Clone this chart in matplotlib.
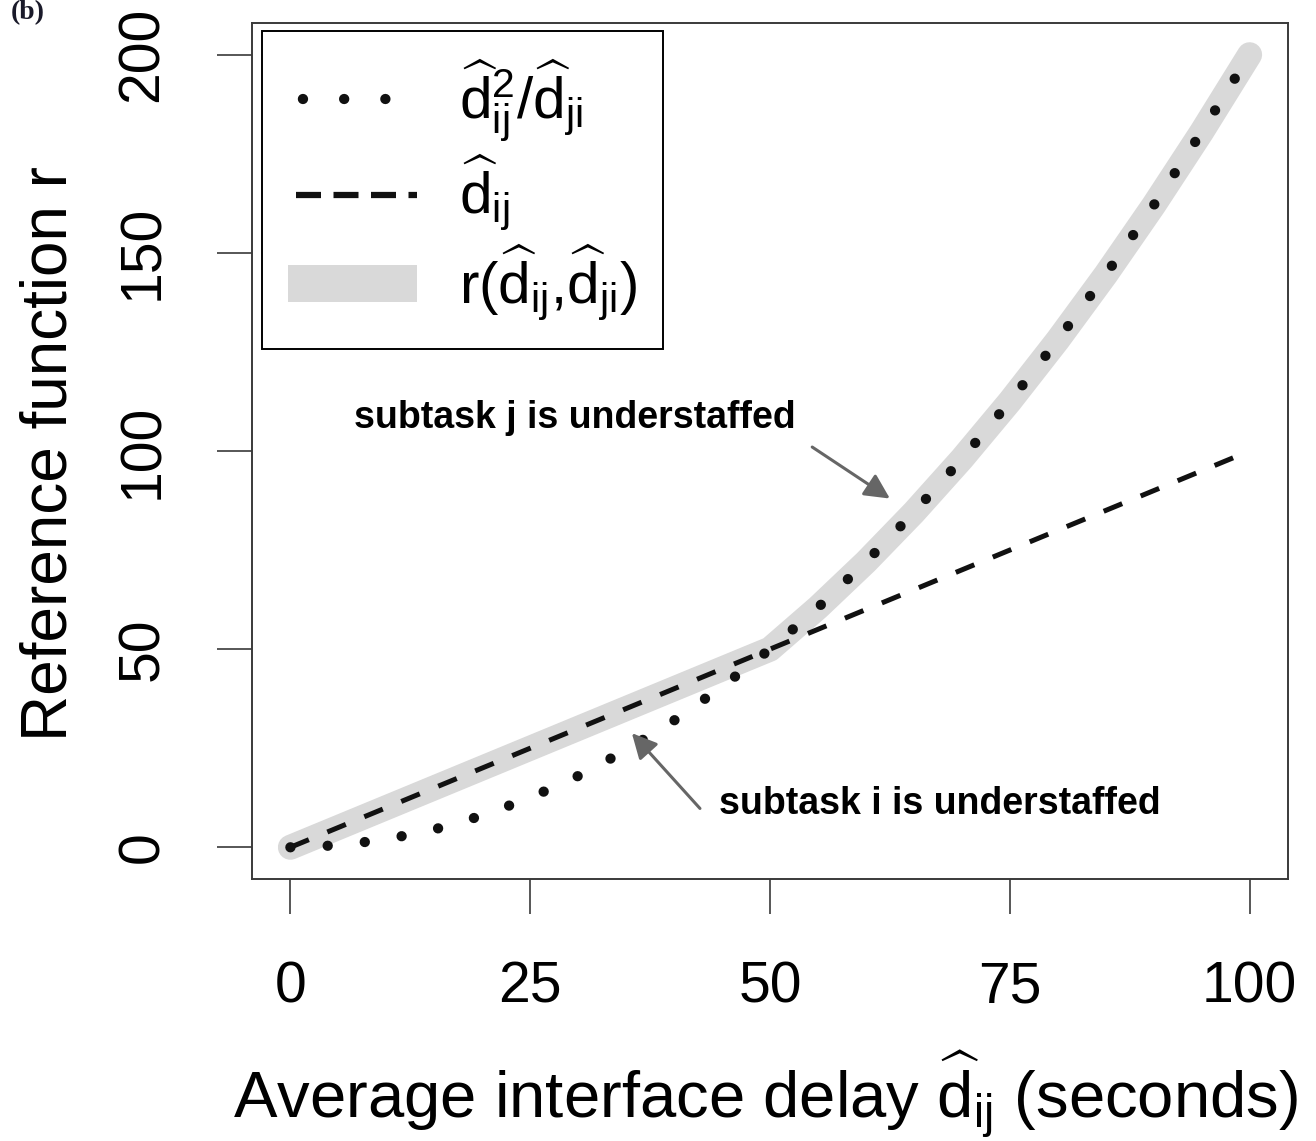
import matplotlib
matplotlib.use("Agg")
import matplotlib.pyplot as plt
from matplotlib.lines import Line2D
from matplotlib.patches import Patch

# Delay values and the reference function pieces
d_ij = [0, 5, 10, 15, 20, 25, 30, 35, 40, 45, 50,
        55, 60, 65, 70, 75, 80, 85, 90, 95, 100]
ratio = [0, 0.5, 2, 4.5, 8, 12.5, 18, 24.5, 32, 40.5, 50,
         60.5, 72, 84.5, 98, 112.5, 128, 144.5, 162, 180.5, 200]
linear = [0, 5, 10, 15, 20, 25, 30, 35, 40, 45, 50,
          55, 60, 65, 70, 75, 80, 85, 90, 95, 100]
r_ref = [0, 5, 10, 15, 20, 25, 30, 35, 40, 45, 50,
         60.5, 72, 84.5, 98, 112.5, 128, 144.5, 162, 180.5, 200]

x_ticks = [0, 25, 50, 75, 100]
y_ticks = [0, 50, 100, 150, 200]

plt.rcParams['font.family'] = ['Liberation Sans', 'DejaVu Sans']
plt.rcParams['mathtext.fontset'] = 'custom'
plt.rcParams['mathtext.rm'] = 'Liberation Sans'
plt.rcParams['mathtext.it'] = 'Liberation Sans:italic'
plt.rcParams['mathtext.bf'] = 'Liberation Sans:bold'

W, H = 1316, 1141
fig = plt.figure(figsize=(W / 100, H / 100), dpi=100)
ax = fig.add_axes([252 / W, 1 - 879 / H, 1036 / W, 856 / H])

grey = '#d9d9d9'
edge = '#3a3a3a'

ax.plot(d_ij, r_ref, color=grey, lw=18, solid_capstyle='round',
        solid_joinstyle='round', zorder=1)
ax.plot(d_ij, linear, color='#111111', lw=3.6, linestyle=(0, (4, 4)),
        dash_capstyle='butt', zorder=2)
ax.plot(d_ij, ratio, color='#111111', lw=7.4, linestyle=(0, (0.01, 3.62)),
        dash_capstyle='round', zorder=3)

ax.set_xlim(-4, 104)
ax.set_ylim(-8, 208)
ax.set_xticks(x_ticks)
ax.set_yticks(y_ticks)
ax.set_xticklabels([str(v) for v in x_ticks])
ax.set_yticklabels([str(v) for v in y_ticks], rotation=90, va='center')
ax.tick_params(axis='both', length=25, width=1.2, color=edge,
               labelsize=41, pad=34)
for s in ax.spines.values():
    s.set_color(edge)
    s.set_linewidth(1.4)

ax.set_xlabel(r'Average interface delay $\widehat{\mathrm{d}}_{\mathrm{ij}}$ (seconds)',
              fontsize=47)
ax.xaxis.set_label_coords(0.496, -0.2804)
ax.xaxis.label.set_va('baseline')
ax.set_ylabel('Reference function r', fontsize=46)
ax.yaxis.set_label_coords(-0.1786, 0.497)
ax.yaxis.label.set_va('baseline')

# annotations
arrow = dict(arrowstyle='-|>', color='#666666', lw=2.2,
             mutation_scale=38, shrinkA=0, shrinkB=0)
ax.annotate('', xy=(62.5, 88.0), xytext=(54.4, 101.0), arrowprops=arrow)
ax.annotate('', xy=(35.6, 28.8), xytext=(42.7, 9.8), arrowprops=arrow)
ax.text(29.7, 108.3, 'subtask j is understaffed', fontsize=27,
        fontweight='bold', ha='center', va='center')
ax.text(67.7, 10.9, 'subtask i is understaffed', fontsize=27,
        fontweight='bold', ha='center', va='center')

handles = [
    Line2D([], [], color='#111111', lw=7.4, linestyle=(2.56, (0.01, 4.0)),
           dash_capstyle='round'),
    Line2D([], [], color='#111111', lw=4.5, linestyle=(4.72, (4, 2))),
    Patch(facecolor=grey, edgecolor='none'),
]
labels = [
    r'$\widehat{\mathrm{d}}_{\mathrm{ij}}^{2}/\widehat{\mathrm{d}}_{\mathrm{ji}}$',
    r'$\widehat{\mathrm{d}}_{\mathrm{ij}}$',
    r'$\mathrm{r(}\widehat{\mathrm{d}}_{\mathrm{ij}}{,}\widehat{\mathrm{d}}_{\mathrm{ji}}\mathrm{)}$',
]
leg = ax.legend(handles, labels, loc='upper left',
                bbox_to_anchor=(10 / 1036, 1 - 8 / 856), borderaxespad=0,
                fontsize=42, handlelength=2.2, handleheight=0.6,
                handletextpad=0.72, labelspacing=0.16, borderpad=0.45,
                fancybox=False, framealpha=1, edgecolor='black')
leg.get_frame().set_linewidth(1.4)

fig.text(0.008, 1.0, '(b)', fontsize=20, fontweight='bold',
         family='Liberation Serif', va='top', color='#1a1a2a')

fig.savefig('out.png', dpi=100)
